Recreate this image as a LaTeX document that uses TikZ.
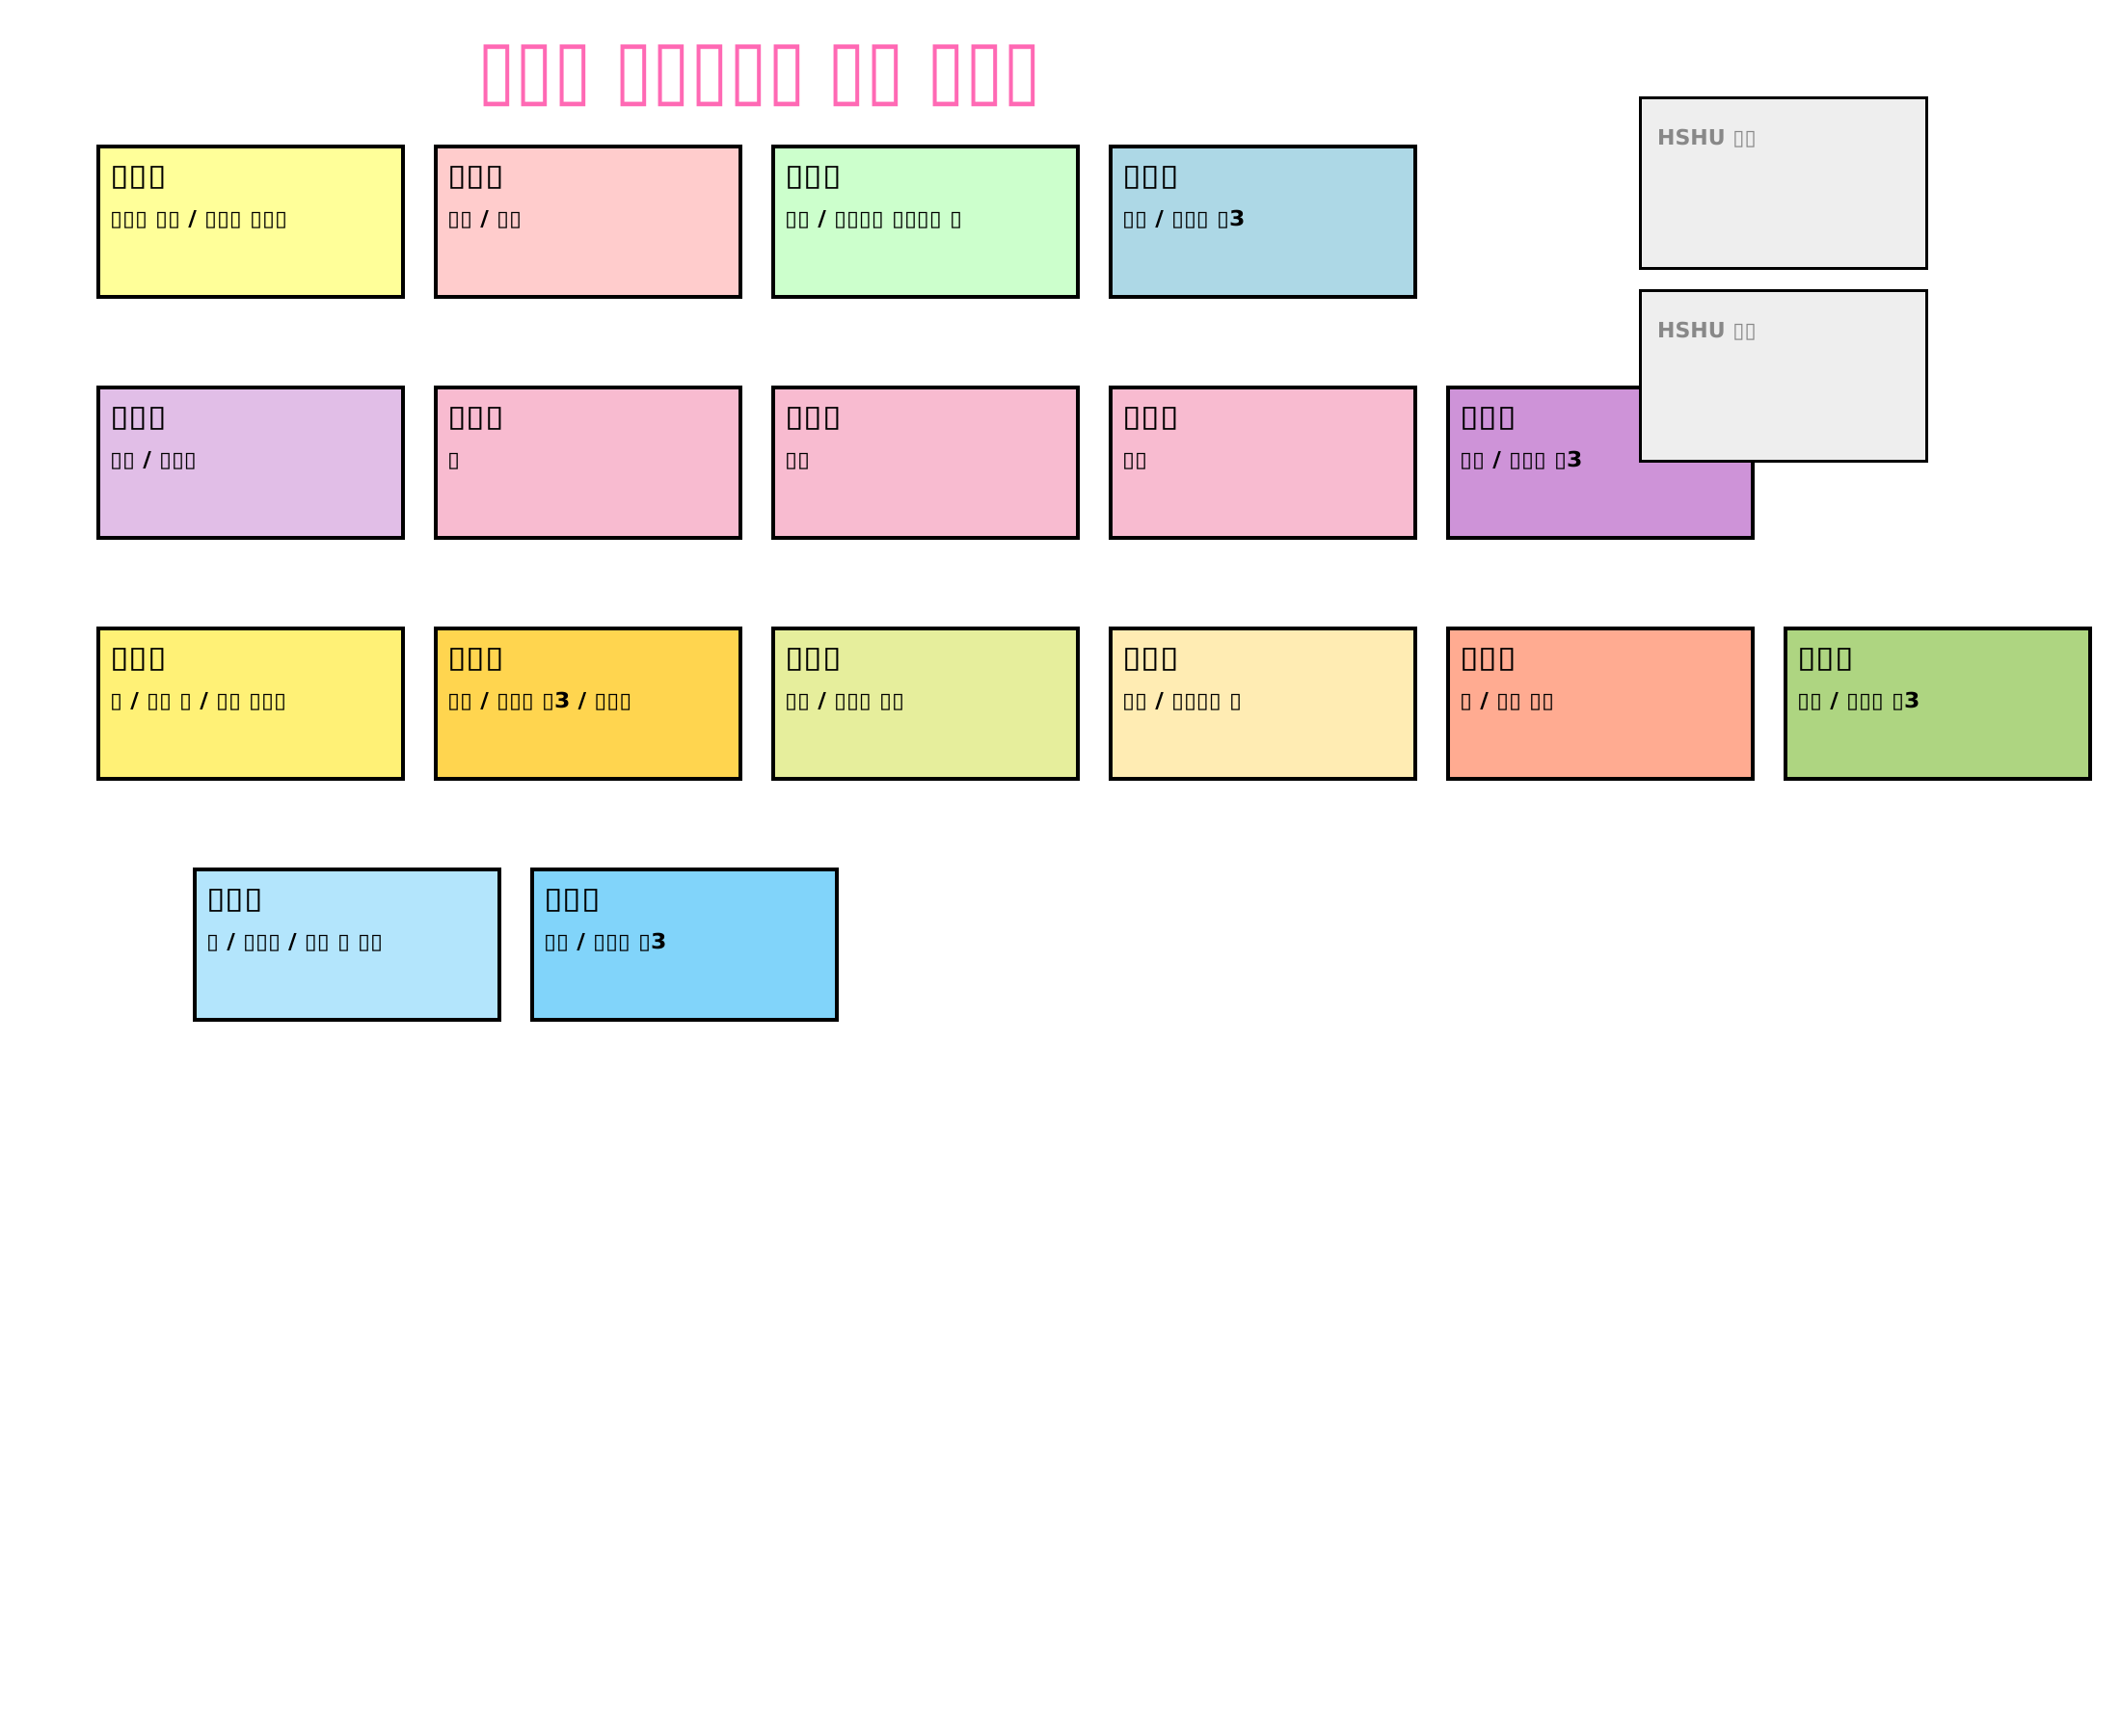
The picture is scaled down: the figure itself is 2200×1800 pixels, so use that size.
\documentclass[tikz,border=0pt]{standalone}
\usepackage{fontspec}
\setmainfont{DejaVu Sans}
\newfontfamily\titlefont{DejaVu Sans}[FakeStretch=0.86]
\newfontfamily\namefont{DejaVu Sans}[FakeStretch=1.15]
\newfontfamily\subfont{DejaVu Sans}[FakeStretch=1.07]
\usepackage{tikz}
\usetikzlibrary{calc}

\definecolor{titlepink}{HTML}{FF69B4}
\definecolor{cYellowA}{HTML}{FFFF99}
\definecolor{cRoseA}{HTML}{FFCCCC}
\definecolor{cMint}{HTML}{CCFFCC}
\definecolor{cSky}{HTML}{ADD8E6}
\definecolor{cLavender}{HTML}{E1BEE7}
\definecolor{cPink}{HTML}{F8BBD0}
\definecolor{cPurple}{HTML}{CE93D8}
\definecolor{cYellowB}{HTML}{FFF176}
\definecolor{cAmber}{HTML}{FFD54F}
\definecolor{cLime}{HTML}{E6EE9C}
\definecolor{cCream}{HTML}{FFECB3}
\definecolor{cSalmon}{HTML}{FFAB91}
\definecolor{cGrass}{HTML}{AED581}
\definecolor{cIce}{HTML}{B3E5FC}
\definecolor{cBlue}{HTML}{81D4FA}
\definecolor{noteGray}{HTML}{EEEEEE}
\definecolor{noteText}{HTML}{888888}

\begin{document}
\begin{tikzpicture}[x=1pt, y=-1pt,
    card/.style={draw, line width=3.8pt, fill=#1, minimum width=316pt, minimum height=156pt,
                 anchor=north west, inner sep=0pt},
    nm/.style={anchor=base west, inner sep=0pt, font=\namefont\fontsize{31}{36}\selectfont},
    sub/.style={anchor=base west, inner sep=0pt, font=\subfont\fontsize{22}{26}\selectfont\bfseries},
    note/.style={draw, line width=2.7pt, fill=noteGray, minimum width=297pt, minimum height=177pt,
                 anchor=north west, inner sep=0pt},
    notetxt/.style={anchor=base west, inner sep=0pt, text=noteText,
                 font=\fontsize{22}{26}\selectfont\bfseries}]
    % 1. Page frame
    \useasboundingbox (0,0) rectangle (2200,1800);

    % 2. Title
    \node[anchor=base, inner sep=0pt, text=titlepink, font=\titlefont\fontsize{84}{92}\selectfont]
        (title) at (788,100) {▯▯▯ ▯▯▯▯▯ ▯▯ ▯▯▯};

    % 3. First row
    \node[card=cYellowA] (c11) at (100,150) {};
    \node[nm]  (c11n) at ($(c11.north west)+(14,42)$) {▯▯▯};
    \node[sub] (c11s) at ($(c11.north west)+(14,84)$) {▯▯▯ ▯▯ / ▯▯▯ ▯▯▯};

    \node[card=cRoseA] (c12) at (450,150) {};
    \node[nm]  (c12n) at ($(c12.north west)+(14,42)$) {▯▯▯};
    \node[sub] (c12s) at ($(c12.north west)+(14,84)$) {▯▯ / ▯▯};

    \node[card=cMint] (c13) at (800,150) {};
    \node[nm]  (c13n) at ($(c13.north west)+(14,42)$) {▯▯▯};
    \node[sub] (c13s) at ($(c13.north west)+(14,84)$) {▯▯ / ▯▯▯▯ ▯▯▯▯ ▯};

    \node[card=cSky] (c14) at (1150,150) {};
    \node[nm]  (c14n) at ($(c14.north west)+(14,42)$) {▯▯▯};
    \node[sub] (c14s) at ($(c14.north west)+(14,84)$) {▯▯ / ▯▯▯ ▯3};

    % 4. Second row
    \node[card=cLavender] (c21) at (100,400) {};
    \node[nm]  (c21n) at ($(c21.north west)+(14,42)$) {▯▯▯};
    \node[sub] (c21s) at ($(c21.north west)+(14,84)$) {▯▯ / ▯▯▯};

    \node[card=cPink] (c22) at (450,400) {};
    \node[nm]  (c22n) at ($(c22.north west)+(14,42)$) {▯▯▯};
    \node[sub] (c22s) at ($(c22.north west)+(14,84)$) {▯};

    \node[card=cPink] (c23) at (800,400) {};
    \node[nm]  (c23n) at ($(c23.north west)+(14,42)$) {▯▯▯};
    \node[sub] (c23s) at ($(c23.north west)+(14,84)$) {▯▯};

    \node[card=cPink] (c24) at (1150,400) {};
    \node[nm]  (c24n) at ($(c24.north west)+(14,42)$) {▯▯▯};
    \node[sub] (c24s) at ($(c24.north west)+(14,84)$) {▯▯};

    \node[card=cPurple] (c25) at (1500,400) {};
    \node[nm]  (c25n) at ($(c25.north west)+(14,42)$) {▯▯▯};
    \node[sub] (c25s) at ($(c25.north west)+(14,84)$) {▯▯ / ▯▯▯ ▯3};

    % 5. Third row
    \node[card=cYellowB] (c31) at (100,650) {};
    \node[nm]  (c31n) at ($(c31.north west)+(14,42)$) {▯▯▯};
    \node[sub] (c31s) at ($(c31.north west)+(14,84)$) {▯ / ▯▯ ▯ / ▯▯ ▯▯▯};

    \node[card=cAmber] (c32) at (450,650) {};
    \node[nm]  (c32n) at ($(c32.north west)+(14,42)$) {▯▯▯};
    \node[sub] (c32s) at ($(c32.north west)+(14,84)$) {▯▯ / ▯▯▯ ▯3 / ▯▯▯};

    \node[card=cLime] (c33) at (800,650) {};
    \node[nm]  (c33n) at ($(c33.north west)+(14,42)$) {▯▯▯};
    \node[sub] (c33s) at ($(c33.north west)+(14,84)$) {▯▯ / ▯▯▯ ▯▯};

    \node[card=cCream] (c34) at (1150,650) {};
    \node[nm]  (c34n) at ($(c34.north west)+(14,42)$) {▯▯▯};
    \node[sub] (c34s) at ($(c34.north west)+(14,84)$) {▯▯ / ▯▯▯▯ ▯};

    \node[card=cSalmon] (c35) at (1500,650) {};
    \node[nm]  (c35n) at ($(c35.north west)+(14,42)$) {▯▯▯};
    \node[sub] (c35s) at ($(c35.north west)+(14,84)$) {▯ / ▯▯ ▯▯};

    \node[card=cGrass] (c36) at (1850,650) {};
    \node[nm]  (c36n) at ($(c36.north west)+(14,42)$) {▯▯▯};
    \node[sub] (c36s) at ($(c36.north west)+(14,84)$) {▯▯ / ▯▯▯ ▯3};

    % 6. Fourth row
    \node[card=cIce] (c41) at (200,900) {};
    \node[nm]  (c41n) at ($(c41.north west)+(14,42)$) {▯▯▯};
    \node[sub] (c41s) at ($(c41.north west)+(14,84)$) {▯ / ▯▯▯ / ▯▯ ▯ ▯▯};

    \node[card=cBlue] (c42) at (550,900) {};
    \node[nm]  (c42n) at ($(c42.north west)+(14,42)$) {▯▯▯};
    \node[sub] (c42s) at ($(c42.north west)+(14,84)$) {▯▯ / ▯▯▯ ▯3};

    % 7. Grey notes on top
    \node[note] (n1) at (1700,100) {};
    \node[notetxt] (n1t) at ($(n1.north west)+(19,50)$) {HSHU ▯▯};
    \node[note] (n2) at (1700,300) {};
    \node[notetxt] (n2t) at ($(n2.north west)+(19,50)$) {HSHU ▯▯};
\end{tikzpicture}
\end{document}
